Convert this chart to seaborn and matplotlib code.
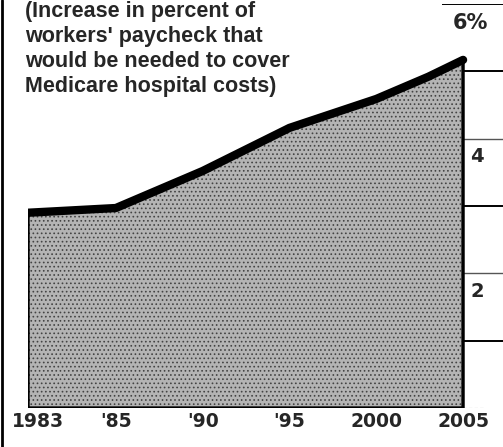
import numpy as np
import matplotlib
matplotlib.use("Agg")
import matplotlib.pyplot as plt
import matplotlib.transforms as mtransforms
from matplotlib.lines import Line2D
import seaborn as sns

# ----------------------------
# Data
# ----------------------------
years = [1983, 1985, 1990, 1995, 2000, 2003, 2005]
pct_increase = [2.90, 2.97, 3.52, 4.16, 4.59, 4.92, 5.17]

tick_years = [1983, 1985, 1990, 1995, 2000, 2005]
tick_labels = ["1983", "'85", "'90", "'95", "2000", "2005"]

grid_levels = [1, 2, 3, 4, 5, 6]
right_labels = {6: "6%", 4: "4", 2: "2"}

title = ("(Increase in percent of\n"
         "workers' paycheck that\n"
         "would be needed to cover\n"
         "Medicare hospital costs)")

# the printed chart squeezes 1983-85 into a wider span than later years
STRETCH = 2.53

def fwd(x):
    x = np.asarray(x, dtype=float)
    return np.where(x < 1985, 1985 - (1985 - x) * STRETCH, x)

def inv(x):
    x = np.asarray(x, dtype=float)
    return np.where(x < 1985, 1985 - (1985 - x) / STRETCH, x)

# ----------------------------
# Figure
# ----------------------------
sns.set_style("white")
plt.rcParams["hatch.linewidth"] = 0.7

fig = plt.figure(figsize=(5.03, 4.47), dpi=100)
ax = fig.add_axes([28 / 503, 39 / 447, 475 / 503, 404 / 447])
ax.set_xscale("function", functions=(fwd, inv))

x_right = 2007.3
ax.set_xlim(1983, x_right)
ax.set_ylim(0, 6)

# shaded area
ax.fill_between(years, 0, pct_increase, facecolor="#b4b4b4",
                edgecolor="#444444", hatch="....", linewidth=0, zorder=1)
ax.fill_between(years, 0, pct_increase, facecolor="none",
                edgecolor="black", linewidth=2.4, zorder=2)
sns.lineplot(x=years, y=pct_increase, color="black", linewidth=6,
             solid_capstyle="round", ax=ax, zorder=3)

# grid stubs to the right of the area
for lvl in grid_levels:
    start = 2003.8 if lvl == 6 else 2005
    if lvl in (2, 4):
        ax.hlines(lvl, start, x_right, color="#555555", linewidth=1.0, zorder=0)
    else:
        ax.hlines(lvl, start, x_right, color="black", linewidth=1.4, zorder=0)
ax.hlines(0, 2005, 2006.2, color="#888888", linewidth=0.8,
          linestyles=(0, (3, 2)), zorder=0)

for lvl, lab in right_labels.items():
    xpos = 2004.4 if lvl == 6 else 2005.4
    ax.text(xpos, lvl - 0.13, lab, ha="left", va="top",
            fontsize=15 if lvl == 6 else 14,
            fontweight="bold", family="DejaVu Sans")

# x axis
ax.set_xticks(tick_years)
ax.set_xticklabels(tick_labels, fontsize=13.5, fontweight="bold",
                   family="DejaVu Sans")
ax.tick_params(axis="x", direction="in", length=10, width=2, pad=3,
               color="black")
first = ax.get_xticklabels()[0]
first.set_transform(first.get_transform() +
                    mtransforms.ScaledTranslation(0.1, 0, fig.dpi_scale_trans))
ax.set_yticks([])
for s in ax.spines.values():
    s.set_visible(False)
ax.set_xlabel("")
ax.set_ylabel("")

# caption text
fig.text(25 / 503, 1 - 1 / 447, title, ha="left", va="top",
         fontsize=15.5, fontweight="bold", family="Liberation Sans",
         linespacing=1.24)

# scan border on the left
fig.add_artist(Line2D([2 / 503, 2 / 503], [0, 1], color="black",
                      linewidth=2, transform=fig.transFigure))

fig.savefig("out.png", dpi=100)
